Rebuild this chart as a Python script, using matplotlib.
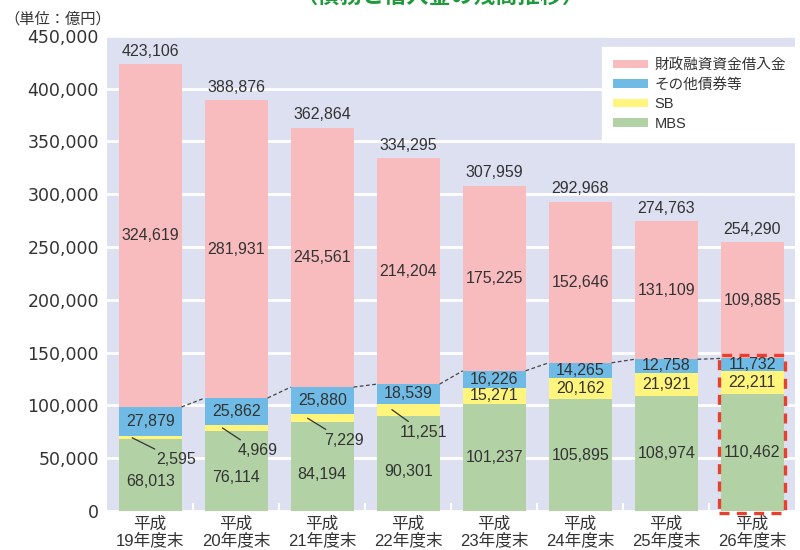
import matplotlib
matplotlib.use("Agg")
import matplotlib.pyplot as plt
import numpy as np
from matplotlib.patches import Rectangle

plt.rcParams['font.family'] = ['Liberation Sans', 'Noto Sans CJK JP', 'DejaVu Sans']

years = ["平成\n19年度末", "平成\n20年度末", "平成\n21年度末", "平成\n22年度末",
         "平成\n23年度末", "平成\n24年度末", "平成\n25年度末", "平成\n26年度末"]
mbs = [68013, 76114, 84194, 90301, 101237, 105895, 108974, 110462]
sb = [2595, 4969, 7229, 11251, 15271, 20162, 21921, 22211]
other = [27879, 25862, 25880, 18539, 16226, 14265, 12758, 11732]
borrow = [324619, 281931, 245561, 214204, 175225, 152646, 131109, 109885]
totals = [423106, 388876, 362864, 334295, 307959, 292968, 274763, 254290]

# leader-line layout for the thin SB slices (start dx in data, text offset in points)
sb_callout = [(-0.21, 32, -16), (-0.16, 25, -16.5), (-0.17, 26, -16), (-0.19, 23, -16.5)]

c_borrow = "#F8BBBE"
c_other = "#6FBBE6"
c_sb = "#FFF47C"
c_mbs = "#B2D2A5"
txt = "#333333"

fig = plt.figure(figsize=(8, 5.5), dpi=100)
ax = fig.add_axes([0.134, 0.071, 0.86, 0.864])
ax.set_facecolor("#DCE0F1")

x = np.arange(len(years))
w = 0.73
mbs_a = np.array(mbs)
sb_a = np.array(sb)
oth_a = np.array(other)
bor_a = np.array(borrow)

ax.bar(x, mbs_a, w, color=c_mbs, label="MBS", zorder=2)
ax.bar(x, sb_a, w, bottom=mbs_a, color=c_sb, label="SB", zorder=2)
ax.bar(x, oth_a, w, bottom=mbs_a + sb_a, color=c_other, label="その他債券等", zorder=2)
ax.bar(x, bor_a, w, bottom=mbs_a + sb_a + oth_a, color=c_borrow, label="財政融資資金借入金", zorder=2)

fs = 11.5
for i in range(len(x)):
    base = mbs_a[i] + sb_a[i]
    top3 = base + oth_a[i]
    ax.text(x[i], top3 + bor_a[i] / 2, f"{borrow[i]:,}", ha="center", va="center", fontsize=fs, color=txt, zorder=4)
    ax.text(x[i], base + oth_a[i] / 2, f"{other[i]:,}", ha="center", va="center", fontsize=fs, color=txt, zorder=4)
    ax.text(x[i], totals[i] + 5000, f"{totals[i]:,}", ha="center", va="bottom", fontsize=fs, color=txt, zorder=4)
    if i < len(sb_callout):
        dx, tx, ty = sb_callout[i]
        ax.annotate(f"{sb[i]:,}", xy=(x[i] + dx, mbs_a[i] + sb_a[i] / 2),
                    xytext=(tx, ty), textcoords="offset points", ha="center", va="center",
                    fontsize=fs, color=txt, zorder=4,
                    arrowprops=dict(arrowstyle="-", color=txt, lw=0.9, shrinkA=1, shrinkB=0))
        ax.text(x[i], mbs_a[i] * 0.41, f"{mbs[i]:,}", ha="center", va="center", fontsize=fs, color=txt, zorder=4)
    else:
        ax.text(x[i], mbs_a[i] + sb_a[i] / 2, f"{sb[i]:,}", ha="center", va="center", fontsize=fs, color=txt, zorder=4)
        ax.text(x[i], mbs_a[i] / 2, f"{mbs[i]:,}", ha="center", va="center", fontsize=fs, color=txt, zorder=4)

# dashed connectors between tops of bond stacks
bond_top = mbs_a + sb_a + oth_a
for i in range(len(x) - 1):
    ax.plot([x[i] + w / 2, x[i + 1] - w / 2], [bond_top[i], bond_top[i + 1]],
            ls=(0, (3, 2)), color="#444444", lw=0.9, zorder=3)

# red dashed box around the latest year
last = len(x) - 1
ax.add_patch(Rectangle((x[last] - w / 2 - 0.02, -2000), w + 0.04, bond_top[last] + 5500,
                       fill=False, ec="#E8402E", lw=2.4, ls=(0, (3, 2.2)), zorder=5, clip_on=False))

ax.set_ylim(0, 450000)
ax.set_xlim(-0.5, len(x) - 0.5)
ax.set_yticks(np.arange(0, 450001, 50000))
ax.set_yticklabels([f"{v:,}" for v in range(0, 450001, 50000)], family="DejaVu Sans")
ax.yaxis.grid(True, color="white", lw=2, zorder=1)
ax.set_axisbelow(True)
ax.set_xticks(x)
ax.set_xticklabels(years, linespacing=1.05)
ax.set_xticks(x[:-1] + 0.5, minor=True)
ax.tick_params(axis="x", which="major", length=0, labelsize=12, labelcolor=txt, pad=4)
ax.tick_params(axis="x", which="minor", direction="in", length=6, width=1.5, color="white")
ax.tick_params(axis="y", length=0, labelsize=12.5, labelcolor=txt, pad=6)
for s in ax.spines.values():
    s.set_visible(False)

handles, labels = ax.get_legend_handles_labels()
leg = ax.legend(handles[::-1], labels[::-1], loc="upper right", bbox_to_anchor=(1.003, 0.976),
                frameon=True, fancybox=False, fontsize=10.5, handlelength=2.4, handleheight=0.5,
                handletextpad=0.45, borderpad=0.75, borderaxespad=0, labelspacing=0.38,
                labelcolor=txt)
leg.get_frame().set_facecolor("white")
leg.get_frame().set_edgecolor("white")
leg.get_frame().set_alpha(1)

fig.text(0.005, 0.965, "（単位：億円）", fontsize=11, color=txt, ha="left", va="center")
fig.text(0.55, 1.006, "（債務と借入金の残高推移）", fontsize=16, color="#1E9A3A",
         fontweight="bold", ha="center", va="center")

fig.savefig("out.png", dpi=100)
